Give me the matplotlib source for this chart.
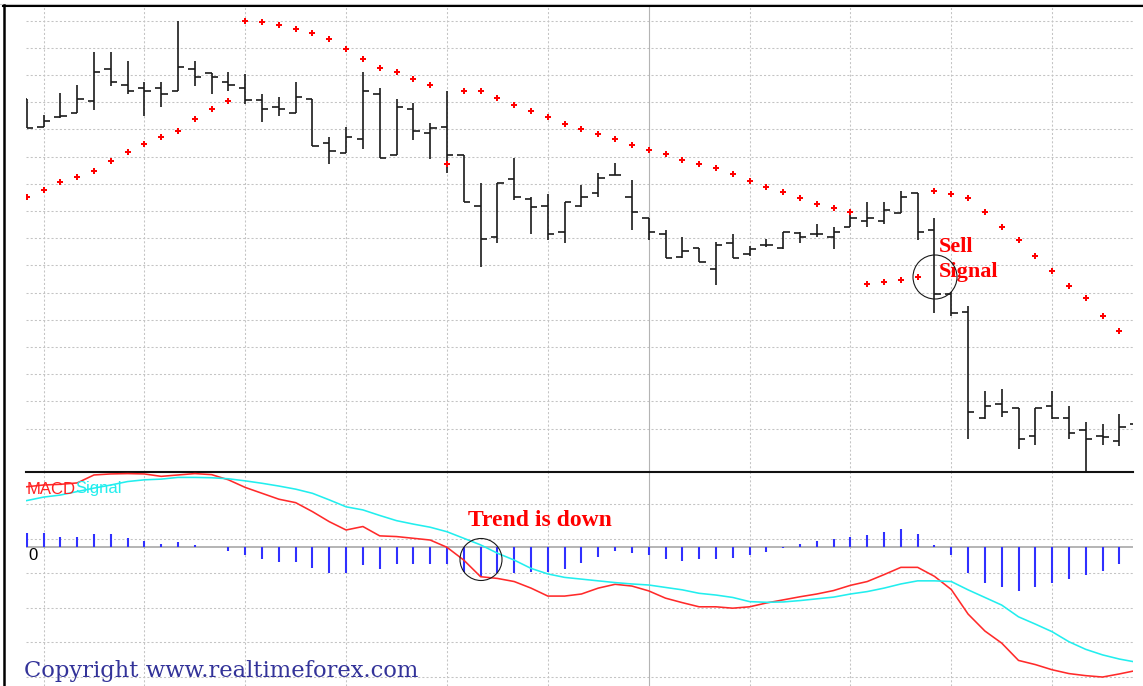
"""Parabolic SAR on an OHLC bar chart with a MACD panel below (sell-signal example)."""

import matplotlib

matplotlib.use("Agg")
import matplotlib.pyplot as plt
import numpy as np
from matplotlib.lines import Line2D
from matplotlib.patches import Ellipse

# price bars, pips above an arbitrary base (one grid step = 10 pips)
OPEN = [131.1, 120.8, 124.5, 126.2, 130.6, 142.1, 136.4, 135.1, 135.1, 134.3,
        142.1, 140.7, 137.6, 135.4, 130.8, 128.4, 126.2, 131.1, 115.1, 111.5,
        116.4, 133.1, 110.5, 127.4, 118.6, 121.0, 110.5, 92.0, 80.6, 101.7,
        94.3, 92.0, 82.2, 92.0, 96.5, 103.3, 95.3, 87.4, 81.5, 73.2,
        76.3, 68.6, 78.4, 74.2, 77.5, 76.3, 81.8, 81.6, 80.4, 84.3,
        86.5, 86.5, 89.4, 96.5, 83.1, 59.5, 53.0, 14.0, 19.1, 17.5,
        7.3, 18.3, 14.0, 9.5, 7.3, 5.5, 11.7]
HIGH = [131.1, 125.3, 133.3, 136.4, 148.6, 148.6, 145.3, 137.6, 137.6, 160.0,
        145.3, 140.7, 141.3, 140.4, 133.1, 132.1, 137.6, 131.1, 117.4, 121.0,
        141.3, 135.4, 131.1, 129.6, 122.3, 134.3, 110.5, 100.4, 100.4, 109.4,
        95.3, 96.3, 93.2, 99.6, 104.1, 107.6, 101.4, 87.4, 83.1, 80.6,
        76.3, 78.5, 81.5, 77.2, 79.6, 82.4, 82.4, 85.3, 84.0, 89.4,
        93.2, 93.2, 97.5, 96.5, 87.4, 60.4, 55.2, 24.0, 24.5, 17.5,
        17.5, 24.0, 18.3, 12.6, 11.7, 15.4, 12.6]
LOW = [120.4, 120.8, 124.1, 126.2, 127.2, 136.0, 132.9, 125.0, 128.2, 134.3,
       136.0, 132.9, 134.3, 129.3, 122.9, 125.1, 126.2, 114.0, 107.2, 111.5,
       112.8, 109.4, 110.5, 116.1, 109.3, 104.1, 93.2, 69.6, 78.4, 94.1,
       81.5, 79.4, 78.4, 91.6, 95.3, 103.3, 83.1, 79.4, 72.6, 72.9,
       71.4, 62.8, 72.6, 73.5, 76.9, 76.1, 78.2, 80.4, 76.1, 84.0,
       84.0, 85.3, 89.4, 79.4, 52.4, 51.5, 6.1, 13.5, 14.2, 2.4,
       4.0, 13.5, 6.1, -8.0, 4.0, 3.6, 9.5]
CLOSE = [120.4, 123.2, 125.1, 131.1, 141.3, 137.6, 134.3, 134.3, 133.1, 143.1,
         139.4, 139.4, 136.4, 130.8, 127.4, 127.4, 132.1, 114.0, 112.1, 117.4,
         134.3, 109.4, 128.4, 119.4, 120.7, 110.5, 93.2, 79.6, 100.4, 95.3,
         91.6, 81.5, 93.2, 95.3, 102.1, 103.3, 89.6, 82.2, 72.6, 75.4,
         71.4, 77.5, 72.9, 76.1, 77.5, 82.4, 80.4, 81.6, 82.4, 87.4,
         87.4, 90.4, 95.3, 82.4, 59.5, 52.4, 16.3, 18.3, 16.3, 6.1,
         17.5, 13.8, 8.5, 6.1, 6.8, 10.7, 11.0]
SAR = [95.3, 97.9, 100.6, 102.6, 104.7, 108.3, 111.6, 114.7, 117.4, 119.4,
       123.8, 127.4, 130.5, 160.0, 159.4, 158.4, 156.8, 155.4, 153.2, 149.5,
       145.8, 142.6, 141.0, 138.5, 136.3, 107.3, 134.2, 134.2, 131.5, 128.9,
       126.8, 124.7, 122.0, 120.1, 118.3, 116.4, 114.2, 112.6, 111.0, 108.9,
       107.3, 105.7, 103.6, 101.0, 99.0, 96.9, 94.7, 92.6, 91.0, 89.6,
       63.1, 64.0, 64.7, 65.7, 97.4, 96.3, 94.7, 89.6, 84.3, 79.4,
       73.6, 68.0, 62.6, 57.9, 51.5, 45.8]

# MACD panel, same bar index
MACD = [17.5, 18.0, 18.2, 18.6, 20.9, 21.2, 21.3, 21.2, 20.5, 20.9,
        21.3, 21.0, 19.5, 17.3, 15.6, 13.9, 12.9, 10.3, 7.4, 5.0,
        6.0, 3.3, 3.1, 2.6, 2.1, 0.0, -3.7, -8.5, -9.0, -9.9,
        -11.8, -14.1, -14.1, -13.5, -11.8, -10.7, -11.2, -12.6, -14.7, -16.0,
        -17.2, -17.2, -17.6, -17.2, -16.1, -15.2, -14.3, -13.5, -12.5, -11.0,
        -9.9, -7.9, -5.8, -5.8, -8.4, -12.2, -19.3, -24.2, -27.7, -32.7,
        -33.9, -35.4, -36.5, -37.1, -37.5, -36.6, -35.6]
SIGNAL = [13.5, 14.5, 15.1, 16.1, 17.1, 18.0, 19.0, 19.5, 19.7, 20.2,
          20.2, 20.1, 19.8, 19.2, 18.5, 17.7, 16.8, 15.6, 13.7, 11.7,
          10.8, 9.2, 7.7, 6.7, 5.8, 4.5, 2.6, 0.7, -1.7, -3.7,
          -6.1, -7.7, -8.7, -9.2, -9.7, -10.2, -10.6, -10.9, -11.6, -12.3,
          -13.3, -13.8, -14.5, -15.7, -15.9, -15.8, -15.4, -14.9, -14.4, -13.5,
          -12.8, -11.8, -10.6, -9.7, -9.7, -9.9, -12.3, -14.5, -16.7, -20.1,
          -22.2, -24.4, -27.3, -29.5, -31.1, -32.3, -33.2]
HIST = [4.2, 4.0, 3.1, 3.1, 3.8, 3.8, 2.6, 1.9, 1.0, 1.5,
        0.6, 0.2, -1.0, -2.2, -3.5, -4.3, -4.3, -6.1, -7.3, -7.5,
        -5.2, -6.2, -4.7, -4.8, -4.8, -4.9, -7.1, -8.5, -7.4, -7.4,
        -7.1, -7.1, -6.4, -4.5, -2.7, -1.0, -1.6, -2.2, -3.5, -3.9,
        -3.5, -3.5, -3.2, -2.2, -1.4, -0.2, 1.0, 1.8, 2.4, 3.1,
        3.5, 4.4, 5.2, 3.8, 0.7, -2.2, -7.5, -10.2, -11.4, -12.6,
        -11.4, -10.2, -9.2, -8.0, -6.8, -4.8]

W, H = 1143, 686
GRID = "#c4c4c4"
DASH = (0, (2, 2))


def fx(x):
    return x / W


def fy(y):
    return 1 - y / H


def vgrid(ax):
    for i in range(1, 66, 6):
        if i == 37:
            ax.axvline(i, color="#b4b4b4", lw=0.8, zorder=0)
        else:
            ax.axvline(i, color=GRID, lw=0.75, ls=DASH, zorder=0)


def bare(ax):
    ax.set_xticks([])
    ax.set_yticks([])
    for s in ax.spines.values():
        s.set_visible(False)


def main():
    fig = plt.figure(figsize=(W / 100, H / 100), dpi=100)
    left, right = 26, 1133
    xlim = (-0.042, 65.81)

    ax = fig.add_axes([fx(left), fy(472), (right - left) / W, (472 - 5) / H])
    ax.set_xlim(*xlim)
    ax.set_ylim(-5.92, 165.77)
    bare(ax)
    for v in range(10, 161, 10):
        ax.axhline(v, color=GRID, lw=0.75, ls=DASH, zorder=0)
    vgrid(ax)

    idx = np.arange(len(OPEN))
    tick = 0.38
    bar_c = "#1a1a1a"
    ax.vlines(idx, LOW, HIGH, colors=bar_c, lw=1.2)
    ax.hlines(OPEN, idx - tick, idx, colors=bar_c, lw=1.2)
    ax.hlines(CLOSE, idx, idx + tick, colors=bar_c, lw=1.2)
    ax.plot(np.arange(len(SAR)), SAR, ls="none", marker="P", ms=4.4,
            mew=0, color="#ff0000")

    ax2 = fig.add_axes([fx(left), 0, (right - left) / W, (686 - 472) / H])
    ax2.set_xlim(*xlim)
    ax2.set_ylim(-40.09, 21.76)
    bare(ax2)
    ax2.spines["top"].set_visible(True)
    ax2.spines["top"].set_linewidth(1.5)
    ax2.spines["top"].set_color("#111111")
    for v in np.arange(-37.5, 13, 10):
        ax2.axhline(v, color=GRID, lw=0.75, ls=DASH, zorder=0)
    vgrid(ax2)
    ax2.axhline(0, color="#a0a0a0", lw=1.1, zorder=1)

    ax2.vlines(np.arange(len(HIST)), 0, HIST, colors="#3030ff", lw=1.5, zorder=2)
    li = np.arange(len(MACD))
    ax2.plot(li, MACD, color="#ff2a2a", lw=1.15, zorder=3)
    ax2.plot(li, SIGNAL, color="#22eeee", lw=1.15, zorder=3)

    # labels and annotations
    fig.text(fx(27), fy(493.5), "MACD", color="#ff2020", fontsize=12,
             family="Liberation Sans", va="baseline")
    fig.text(fx(75.5), fy(493.5), "Signal", color="#22eeee", fontsize=12,
             family="Liberation Sans", va="baseline")
    fig.text(fx(28), fy(560.5), "0", color="black", fontsize=12,
             family="Liberation Sans", va="baseline")
    fig.text(fx(24), fy(677), "Copyright www.realtimeforex.com", color="#333399",
             fontsize=16.3, family="DejaVu Serif", va="baseline")
    red_kw = dict(color="#ff0000", family="Liberation Serif", weight="bold", va="baseline")
    fig.text(fx(468), fy(526), "Trend is down", fontsize=17, **red_kw)
    fig.text(fx(939), fy(252.3), "Sell", fontsize=16, **red_kw)
    fig.text(fx(939), fy(276.7), "Signal", fontsize=16, **red_kw)

    for cx, cy, r in [(481, 559.5, 21), (935, 277, 22)]:
        fig.add_artist(Ellipse((fx(cx), fy(cy)), 2 * r / W, 2 * r / H,
                               transform=fig.transFigure, fill=False,
                               ec="#1a1a1a", lw=0.8, zorder=5))

    # outer frame
    fig.add_artist(Line2D([fx(0), fx(W)], [fy(3.5), fy(3.5)], color="#cccccc", lw=0.8))
    fig.add_artist(Line2D([fx(3), fx(W)], [fy(5.5), fy(5.5)], color="black", lw=1.5))
    fig.add_artist(Line2D([fx(4), fx(4)], [fy(5), fy(H)], color="black", lw=1.8))

    fig.savefig("out.png", dpi=100)
    plt.close(fig)


if __name__ == "__main__":
    main()
